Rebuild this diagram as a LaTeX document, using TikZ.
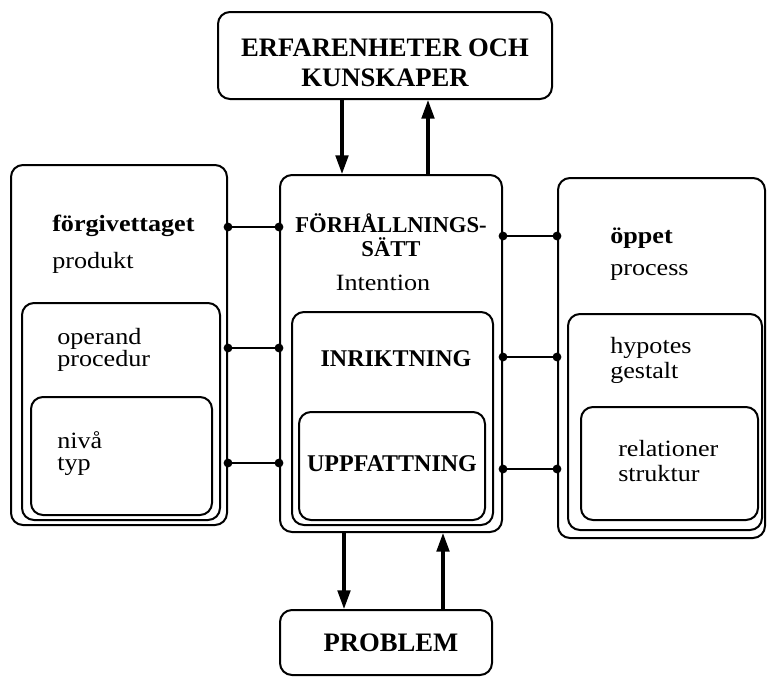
\documentclass[tikz,border=0pt]{standalone}
\usepackage{fontspec}
\setmainfont{Liberation Serif}[FakeStretch=1.12]
\newfontfamily\capfont{Liberation Serif}
\usetikzlibrary{arrows.meta,fit}
\begin{document}
\begin{tikzpicture}[x=0.75pt,y=-0.75pt,
 box/.style={draw, line width=1.5pt, rounded corners=9pt, inner sep=0pt},
 conn/.style={line width=1.5pt, {Circle[length=6.5pt]}-{Circle[length=6.5pt]}, shorten <=-3.25pt, shorten >=-3.25pt},
 flow/.style={line width=2.3pt, -{Triangle[length=14pt,width=9.5pt]}},
 big/.style={font=\capfont\fontsize{20}{22.5}\selectfont\bfseries, align=center, inner sep=0pt},
 head/.style={font=\capfont\fontsize{17}{18}\selectfont\bfseries, align=center, inner sep=0pt},
 mid/.style={font=\capfont\fontsize{18}{18}\selectfont\bfseries, align=center, inner sep=0pt},
 lbl/.style={font=\fontsize{17.5}{16.5}\selectfont, align=left, anchor=west, inner sep=0pt},
 wlbl/.style={font=\fontsize{17.5}{18.75}\selectfont, align=left, anchor=west, inner sep=0pt},
 blbl/.style={lbl, font=\fontsize{17.5}{17}\selectfont\bfseries},
]
\useasboundingbox (0,0) rectangle (767,683);
% top and bottom
\node[box, fit={(218,12) (552,99)}] (T) {};
\node[big] (Ttext) at (385,63) {ERFARENHETER OCH\\KUNSKAPER};
\node[box, fit={(280,610) (492,675)}] (P) {};
\node[big] (Ptext) at (391,643) {PROBLEM};
% centre
\node[box, fit={(280,175) (502,532)}] (C) {};
\node[box, fit={(292,312) (493,525)}] (C1) {};
\node[box, fit={(299,412) (485,520)}] (C2) {};
\node[head] (Ctitle) at (391,235) {FÖRHÅLLNINGS-\\SÄTT};
\node[lbl, anchor=center] (Cint) at (383,283) {Intention};
\node[mid] (C1text) at (396,359) {INRIKTNING};
\node[mid] (C2text) at (392,464) {UPPFATTNING};
% left
\node[box, fit={(11,165) (227,525)}] (L) {};
\node[box, fit={(22,303) (220,520)}] (L1) {};
\node[box, fit={(31,397) (212,515)}] (L2) {};
\node[blbl] (Ltitle) at (52,226) {förgivettaget};
\node[lbl] (Lsub) at (52,263) {produkt};
\node[lbl] (L1text) at (57,350) {operand\\procedur};
\node[lbl] (L2text) at (57,454) {nivå\\typ};
% right
\node[box, fit={(558,178) (765,538)}] (R) {};
\node[box, fit={(568,314) (762,530)}] (R1) {};
\node[box, fit={(581,407) (758,520)}] (R2) {};
\node[blbl] (Rtitle) at (610,238) {öppet};
\node[lbl] (Rsub) at (610,272) {process};
\node[wlbl] (R1text) at (610,360) {hypotes\\gestalt};
\node[wlbl] (R2text) at (618,461) {relationer\\struktur};
% connectors
\draw[conn] (L.east |- 0,227) -- (C.west |- 0,227);
\draw[conn] (L.east |- 0,348) -- (C.west |- 0,348);
\draw[conn] (L.east |- 0,463) -- (C.west |- 0,463);
\draw[conn] (C.east |- 0,236) -- (R.west |- 0,236);
\draw[conn] (C.east |- 0,357) -- (R.west |- 0,357);
\draw[conn] (C.east |- 0,469) -- (R.west |- 0,469);
% flows
\draw[flow] (T.south -| 342,0) -- (C.north -| 342,0);
\draw[flow] (C.north -| 428,0) -- (T.south -| 428,0);
\draw[flow] (C.south -| 344,0) -- (P.north -| 344,0);
\draw[flow] (P.north -| 443,0) -- (C.south -| 443,0);
\end{tikzpicture}
\end{document}
